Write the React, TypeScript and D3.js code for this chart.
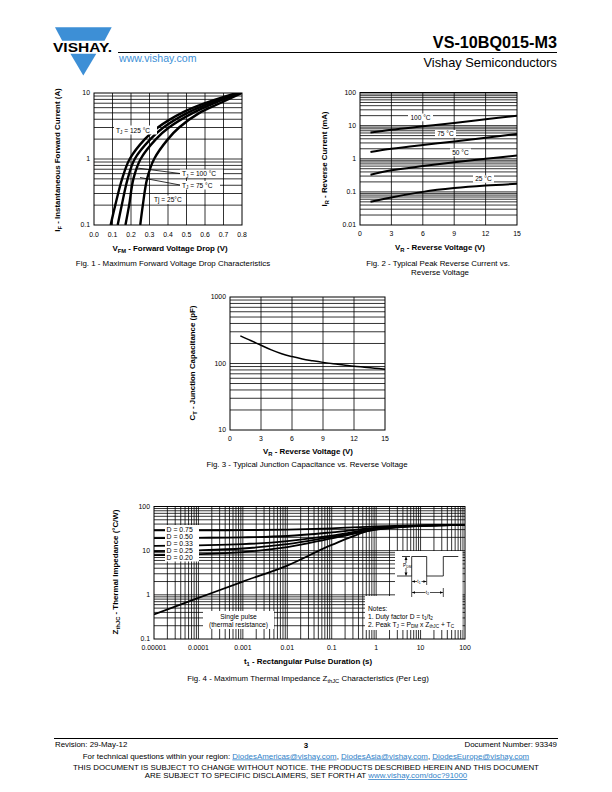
import React from 'react';
import * as d3 from 'd3';

const FONT = "'Liberation Sans', Arial, Helvetica, sans-serif";
const LINK = '#2f7fc8';
const TICK = 6.9;
const TITLE = 7.9;
const CAP = 7.9;

// ---------- Fig. 1 data ----------
const fig1Currents = [0.1, 0.2, 0.5, 1, 2, 3, 5, 7, 10];
const fig1V125 = [0.09, 0.115, 0.152, 0.193, 0.275, 0.345, 0.475, 0.6, 0.77];
const fig1V100 = [0.128, 0.15, 0.182, 0.22, 0.305, 0.375, 0.505, 0.625, 0.78];
const fig1V75 = [0.17, 0.19, 0.213, 0.252, 0.335, 0.405, 0.535, 0.65, 0.79];
const fig1V25 = [0.25, 0.264, 0.287, 0.325, 0.4, 0.46, 0.57, 0.68, 0.8];
const fig1XTicks = [0, 0.1, 0.2, 0.3, 0.4, 0.5, 0.6, 0.7, 0.8];
const fig1XLabels = ['0.0', '0.1', '0.2', '0.3', '0.4', '0.5', '0.6', '0.7', '0.8'];
const fig1YTicks = [0.1, 1, 10];
const fig1YLabels = ['0.1', '1', '10'];

// ---------- Fig. 2 data ----------
const fig2Voltages = [1, 3, 6, 9, 12, 15];
const fig2I100 = [6.2, 7.5, 9.5, 12, 15.5, 20];
const fig2I75 = [1.6, 2.0, 2.6, 3.3, 4.3, 5.6];
const fig2I50 = [0.33, 0.45, 0.6, 0.78, 1.0, 1.25];
const fig2I25 = [0.05, 0.068, 0.1, 0.13, 0.155, 0.175];
const fig2XTicks = [0, 3, 6, 9, 12, 15];
const fig2YTicks = [0.01, 0.1, 1, 10, 100];
const fig2YLabels = ['0.01', '0.1', '1', '10', '100'];

// ---------- Fig. 3 data ----------
const fig3Voltages = [1, 2, 3, 4, 5, 6, 7, 8, 9, 10, 11, 12, 13, 14, 15];
const fig3Cap = [260, 222, 188, 160, 140, 127, 117, 110, 104, 99, 95, 91, 88, 85, 82];
const fig3XTicks = [0, 3, 6, 9, 12, 15];
const fig3YTicks = [10, 100, 1000];
const fig3YLabels = ['10', '100', '1000'];

// ---------- Fig. 4 data ----------
const fig4Times = [1e-5, 1e-4, 1e-3, 1e-2, 1e-1, 1, 10, 100];
const fig4Single = [0.36, 0.85, 2.0, 4.6, 13.5, 31, 37, 38.5];
const fig4D075 = [28.7, 28.8, 29.2, 30, 32, 35.5, 37.5, 38.5];
const fig4D050 = [19.2, 19.5, 20, 21.5, 26, 33, 37, 38.5];
const fig4D033 = [12.8, 13.2, 14, 16.5, 22, 31.5, 36.5, 38.5];
const fig4D025 = [9.8, 10.2, 11.2, 14, 20.5, 30.5, 36.5, 38.5];
const fig4D020 = [7.9, 8.3, 9.3, 12, 19, 30, 36.5, 38.5];
const fig4Legend = ['D = 0.75', 'D = 0.50', 'D = 0.33', 'D = 0.25', 'D = 0.20'];
const fig4XTicks = [1e-5, 1e-4, 1e-3, 1e-2, 1e-1, 1, 10, 100];
const fig4XLabels = ['0.00001', '0.0001', '0.001', '0.01', '0.1', '1', '10', '100'];
const fig4YTicks = [0.1, 1, 10, 100];
const fig4YLabels = ['0.1', '1', '10', '100'];

function logMinors(lo: number, hi: number): number[] {
  const out: number[] = [];
  const e0 = Math.round(Math.log10(lo));
  const e1 = Math.round(Math.log10(hi));
  for (let e = e0; e < e1; e++) {
    for (let m = 1; m <= 9; m++) {
      const v = m * Math.pow(10, e);
      if (v > lo * 1.0001) out.push(v);
    }
  }
  return out;
}

const curve = d3.line<[number, number]>().x(d => d[0]).y(d => d[1]).curve(d3.curveCatmullRom.alpha(0.5));

function Frame({ x0, x1, y0, y1 }: { x0: number; x1: number; y0: number; y1: number }) {
  return <rect x={x0} y={y0} width={x1 - x0} height={y1 - y0} fill="none" stroke="#000" strokeWidth={1} />;
}

function Fig1() {
  const x = d3.scaleLinear().domain([0, 0.8]).range([94, 242]);
  const y = d3.scaleLog().domain([0.1, 10]).range([225, 93]);
  const series = [fig1V125, fig1V100, fig1V75, fig1V25];
  return (
    <g>
      <defs>
        <clipPath id="c1"><rect x={94} y={93} width={148} height={132} /></clipPath>
      </defs>
      {fig1XTicks.slice(1, -1).map(v => (
        <line key={'v' + v} x1={x(v)} x2={x(v)} y1={93} y2={225} stroke="#000" strokeWidth={0.8} />
      ))}
      {logMinors(0.1, 10).map(v => (
        <line key={'h' + v} x1={94} x2={242} y1={y(v)} y2={y(v)} stroke="#000" strokeWidth={0.8} />
      ))}
      <Frame x0={94} x1={242} y0={93} y1={225} />
      <g clipPath="url(#c1)">
        {series.map((s, i) => (
          <path key={i} d={curve(fig1Currents.map((c, k) => [x(s[k]), y(c)] as [number, number])) || ''} fill="none" stroke="#000" strokeWidth={2.4} />
        ))}
      </g>
      {fig1XTicks.map((v, i) => (
        <text key={'xt' + i} x={x(v)} y={237} fontSize={TICK} textAnchor="middle">{fig1XLabels[i]}</text>
      ))}
      {fig1YTicks.map((v, i) => (
        <text key={'yt' + i} x={90} y={y(v) + 2.4} fontSize={TICK} textAnchor="end">{fig1YLabels[i]}</text>
      ))}
      {/* labels */}
      <rect x={114} y={125.5} width={43} height={9} fill="#fff" />
      <text x={116} y={132.5} fontSize={6.6}>T<tspan dy={1.5} fontSize={4.7}>J</tspan><tspan dy={-1.5}> = 125 °C</tspan></text>
      <line x1={137} y1={168} x2={180} y2={173.5} stroke="#000" strokeWidth={0.8} />
      <line x1={140} y1={177.5} x2={180} y2={185} stroke="#000" strokeWidth={0.8} />
      <rect x={180} y={169.5} width={43} height={8.5} fill="#fff" />
      <text x={182} y={176.3} fontSize={6.6}>T<tspan dy={1.5} fontSize={4.7}>J</tspan><tspan dy={-1.5}> = 100 °C</tspan></text>
      <rect x={180} y={181} width={40} height={8.5} fill="#fff" />
      <text x={182} y={187.8} fontSize={6.6}>T<tspan dy={1.5} fontSize={4.7}>J</tspan><tspan dy={-1.5}> = 75 °C</tspan></text>
      <rect x={152} y={195.5} width={33} height={8.5} fill="#fff" />
      <text x={154} y={202.3} fontSize={6.6}>Tj = 25°C</text>
      {/* axis titles */}
      <text transform="translate(60,160) rotate(-90)" textAnchor="middle" fontSize={TITLE} fontWeight="bold">I<tspan dy={2} fontSize={5.8}>F</tspan><tspan dy={-2}> - Instantaneous Forward Current (A)</tspan></text>
      <text x={170} y={251} textAnchor="middle" fontSize={TITLE} fontWeight="bold">V<tspan dy={2} fontSize={5.8}>FM</tspan><tspan dy={-2}> - Forward Voltage Drop (V)</tspan></text>
      <text x={173} y={266} textAnchor="middle" fontSize={CAP}>Fig. 1 - Maximum Forward Voltage Drop Characteristics</text>
    </g>
  );
}

function Fig2() {
  const x = d3.scaleLinear().domain([0, 15]).range([360, 517]);
  const y = d3.scaleLog().domain([0.01, 100]).range([225, 92.5]);
  const series = [fig2I100, fig2I75, fig2I50, fig2I25];
  const labels = [
    { t: '100 °C', x: 408, y: 113.5, w: 25 },
    { t: '75 °C', x: 435, y: 130, w: 21 },
    { t: '50 °C', x: 450, y: 148.5, w: 21 },
    { t: '25 °C', x: 473, y: 175, w: 21 },
  ];
  return (
    <g>
      <defs>
        <clipPath id="c2"><rect x={360} y={92.5} width={157} height={132.5} /></clipPath>
      </defs>
      {fig2XTicks.slice(1, -1).map(v => (
        <line key={'v' + v} x1={x(v)} x2={x(v)} y1={92.5} y2={225} stroke="#000" strokeWidth={0.8} />
      ))}
      {logMinors(0.01, 100).map(v => (
        <line key={'h' + v} x1={360} x2={517} y1={y(v)} y2={y(v)} stroke="#000" strokeWidth={0.8} />
      ))}
      <Frame x0={360} x1={517} y0={92.5} y1={225} />
      <g clipPath="url(#c2)">
        {series.map((s, i) => (
          <path key={i} d={curve(fig2Voltages.map((v, k) => [x(v), y(s[k])] as [number, number])) || ''} fill="none" stroke="#000" strokeWidth={2} />
        ))}
      </g>
      {labels.map(l => (
        <g key={l.t}>
          <rect x={l.x} y={l.y} width={l.w} height={7.8} fill="#fff" />
          <text x={l.x + l.w / 2} y={l.y + 6.2} fontSize={6.6} textAnchor="middle">{l.t}</text>
        </g>
      ))}
      {fig2XTicks.map(v => (
        <text key={'xt' + v} x={x(v)} y={236} fontSize={TICK} textAnchor="middle">{v}</text>
      ))}
      {fig2YTicks.map((v, i) => (
        <text key={'yt' + i} x={356} y={y(v) + 2.4} fontSize={TICK} textAnchor="end">{fig2YLabels[i]}</text>
      ))}
      <text transform="translate(327,159) rotate(-90)" textAnchor="middle" fontSize={TITLE} fontWeight="bold">I<tspan dy={2} fontSize={5.8}>R</tspan><tspan dy={-2}> - Reverse Current (mA)</tspan></text>
      <text x={440} y={250} textAnchor="middle" fontSize={TITLE} fontWeight="bold">V<tspan dy={2} fontSize={5.8}>R</tspan><tspan dy={-2}> - Reverse Voltage (V)</tspan></text>
      <text x={438} y={266} textAnchor="middle" fontSize={CAP}>Fig. 2 - Typical Peak Reverse Current vs.</text>
      <text x={440} y={275} textAnchor="middle" fontSize={CAP}>Reverse Voltage</text>
    </g>
  );
}

function Fig3() {
  const x = d3.scaleLinear().domain([0, 15]).range([230, 385]);
  const y = d3.scaleLog().domain([10, 1000]).range([430, 297]);
  return (
    <g>
      {fig3XTicks.slice(1, -1).map(v => (
        <line key={'v' + v} x1={x(v)} x2={x(v)} y1={297} y2={430} stroke="#000" strokeWidth={0.8} />
      ))}
      {logMinors(10, 1000).map(v => (
        <line key={'h' + v} x1={230} x2={385} y1={y(v)} y2={y(v)} stroke="#000" strokeWidth={0.8} />
      ))}
      <Frame x0={230} x1={385} y0={297} y1={430} />
      <path d={curve(fig3Voltages.map((v, k) => [x(v), y(fig3Cap[k])] as [number, number])) || ''} fill="none" stroke="#000" strokeWidth={1.5} />
      {fig3XTicks.map(v => (
        <text key={'xt' + v} x={x(v)} y={441} fontSize={TICK} textAnchor="middle">{v}</text>
      ))}
      {fig3YTicks.map((v, i) => (
        <text key={'yt' + i} x={226} y={y(v) + 2.4} fontSize={TICK} textAnchor="end">{fig3YLabels[i]}</text>
      ))}
      <text transform="translate(195,363) rotate(-90)" textAnchor="middle" fontSize={TITLE} fontWeight="bold">C<tspan dy={2} fontSize={5.8}>T</tspan><tspan dy={-2}> - Junction Capacitance (pF)</tspan></text>
      <text x={308} y={454} textAnchor="middle" fontSize={TITLE} fontWeight="bold">V<tspan dy={2} fontSize={5.8}>R</tspan><tspan dy={-2}> - Reverse Voltage (V)</tspan></text>
      <text x={307} y={467} textAnchor="middle" fontSize={CAP}>Fig. 3 - Typical Junction Capacitance vs. Reverse Voltage</text>
    </g>
  );
}

function Fig4() {
  const X0 = 154, X1 = 465, Y0 = 506.5, Y1 = 639;
  const x = d3.scaleLog().domain([1e-5, 100]).range([X0, X1]);
  const y = d3.scaleLog().domain([0.1, 100]).range([Y1, Y0]);
  const series = [fig4D075, fig4D050, fig4D033, fig4D025, fig4D020, fig4Single];
  const wave = `M397,576 H411.7 V556.5 H426.7 V576 H443.3 V556.5 H458.3`;
  return (
    <g>
      <defs>
        <clipPath id="c4"><rect x={X0} y={Y0} width={X1 - X0} height={Y1 - Y0} /></clipPath>
      </defs>
      {logMinors(1e-5, 100).map(v => (
        <line key={'v' + v} x1={x(v)} x2={x(v)} y1={Y0} y2={Y1} stroke="#000" strokeWidth={0.8} />
      ))}
      {logMinors(0.1, 100).map(v => (
        <line key={'h' + v} x1={X0} x2={X1} y1={y(v)} y2={y(v)} stroke="#000" strokeWidth={0.8} />
      ))}
      <Frame x0={X0} x1={X1} y0={Y0} y1={Y1} />
      <g clipPath="url(#c4)">
        {series.map((s, i) => (
          <path key={i} d={curve(fig4Times.map((t, k) => [x(t), y(s[k])] as [number, number])) || ''} fill="none" stroke="#000" strokeWidth={1.8} />
        ))}
      </g>
      {/* legend box */}
      <rect x={165} y={525} width={34} height={36.5} fill="#fff" />
      {fig4Legend.map((t, i) => (
        <text key={t} x={166.5} y={531.5 + i * 7.1} fontSize={6.9}>{t}</text>
      ))}
      {/* single pulse box */}
      <rect x={203} y={611} width={71} height={18} fill="#fff" />
      <text x={238.5} y={618.5} fontSize={6.7} textAnchor="middle">Single pulse</text>
      <text x={238.5} y={626.5} fontSize={6.7} textAnchor="middle">(thermal resistance)</text>
      {/* notes box */}
      <path d="M395,551 H462.5 V630 H365 V596 H395 Z" fill="#fff" />
      <path d={wave} fill="none" stroke="#000" strokeWidth={0.8} />
      <line x1={402} x2={410} y1={556.5} y2={556.5} stroke="#000" strokeWidth={0.8} />
      <line x1={406} x2={406} y1={557} y2={575.5} stroke="#000" strokeWidth={0.7} />
      <path d="M404.5,560 L406,556.8 L407.5,560 Z M404.5,572.5 L406,575.7 L407.5,572.5 Z" fill="#000" />
      <rect x={402.5} y={563} width={8} height={5} fill="#fff" />
      <text x={403} y={567} fontSize={4.8}>P<tspan dy={1} fontSize={3.4}>DM</tspan></text>
      <line x1={411.7} x2={411.7} y1={576} y2={597} stroke="#000" strokeWidth={0.7} />
      <line x1={426.7} x2={426.7} y1={576} y2={585} stroke="#000" strokeWidth={0.7} />
      <line x1={443.3} x2={443.3} y1={588} y2={597} stroke="#000" strokeWidth={0.7} />
      <line x1={412} x2={426.4} y1={581.5} y2={581.5} stroke="#000" strokeWidth={0.7} />
      <line x1={412} x2={443} y1={592.5} y2={592.5} stroke="#000" strokeWidth={0.7} />
      <path d="M412,581.5 L415,580.3 L415,582.7 Z M426.4,581.5 L423.4,580.3 L423.4,582.7 Z M412,592.5 L415,591.3 L415,593.7 Z M443,592.5 L440,591.3 L440,593.7 Z" fill="#000" />
      <rect x={417} y={579} width={4.5} height={5} fill="#fff" />
      <text x={417.3} y={583.3} fontSize={4.8}>t<tspan dy={1} fontSize={3.4}>1</tspan></text>
      <rect x={425.5} y={590} width={4.5} height={5} fill="#fff" />
      <text x={425.8} y={594.3} fontSize={4.8}>t<tspan dy={1} fontSize={3.4}>2</tspan></text>
      <text x={368} y={611} fontSize={6.7}>Notes:</text>
      <text x={368} y={619} fontSize={6.7}>1. Duty factor D = t<tspan dy={1.3} fontSize={4.7}>1</tspan><tspan dy={-1.3}>/t</tspan><tspan dy={1.3} fontSize={4.7}>2</tspan></text>
      <text x={368} y={627} fontSize={6.7}>2. Peak T<tspan dy={1.3} fontSize={4.7}>J</tspan><tspan dy={-1.3}> = P</tspan><tspan dy={1.3} fontSize={4.7}>DM</tspan><tspan dy={-1.3}> x Z</tspan><tspan dy={1.3} fontSize={4.7}>thJC</tspan><tspan dy={-1.3}> + T</tspan><tspan dy={1.3} fontSize={4.7}>C</tspan></text>
      {fig4XTicks.map((v, i) => (
        <text key={'xt' + i} x={x(v)} y={650} fontSize={TICK} textAnchor="middle">{fig4XLabels[i]}</text>
      ))}
      {fig4YTicks.map((v, i) => (
        <text key={'yt' + i} x={150} y={y(v) + 2.4} fontSize={TICK} textAnchor="end">{fig4YLabels[i]}</text>
      ))}
      <text transform="translate(118,572) rotate(-90)" textAnchor="middle" fontSize={TITLE} fontWeight="bold">Z<tspan dy={2} fontSize={5.8}>thJC</tspan><tspan dy={-2}> - Thermal Impedance (°C/W)</tspan></text>
      <text x={308} y={664} textAnchor="middle" fontSize={TITLE} fontWeight="bold">t<tspan dy={2} fontSize={5.8}>1</tspan><tspan dy={-2}> - Rectangular Pulse Duration (s)</tspan></text>
      <text x={308} y={681} textAnchor="middle" fontSize={CAP}>Fig. 4 - Maximum Thermal Impedance Z<tspan dy={2} fontSize={5.8}>thJC</tspan><tspan dy={-2}> Characteristics (Per Leg)</tspan></text>
    </g>
  );
}

function Header() {
  const blue = '#3d8fd6';
  return (
    <g>
      <path d="M55,27.3 L111.7,27.3 L104.5,40.8 L62.2,40.8 Z" fill={blue} />
      <path d="M70.4,53.8 L96.3,53.8 L83.3,75.5 Z" fill={blue} />
      <text x={53} y={51.5} fontSize={13} fontWeight="bold" textLength={59} lengthAdjust="spacingAndGlyphs">VISHAY.</text>
      <text x={119} y={62} fontSize={10.6} fill={blue}>www.vishay.com</text>
      <text x={557} y={48} fontSize={16.2} fontWeight="bold" textAnchor="end">VS-10BQ015-M3</text>
      <line x1={118} x2={557} y1={52.5} y2={52.5} stroke="#000" strokeWidth={1} />
      <text x={557} y={67} fontSize={12.8} textAnchor="end">Vishay Semiconductors</text>
    </g>
  );
}

function Footer() {
  return (
    <g fontSize={7.9}>
      <line x1={54} x2={558} y1={738.5} y2={738.5} stroke="#000" strokeWidth={1} />
      <text x={55} y={747}>Revision: 29-May-12</text>
      <text x={306} y={748} textAnchor="middle" fontWeight="bold">3</text>
      <text x={557} y={747} textAnchor="end">Document Number: 93349</text>
      <text x={306} y={758.5} textAnchor="middle">For technical questions within your region: <tspan fill={LINK} textDecoration="underline">DiodesAmericas@vishay.com</tspan>, <tspan fill={LINK} textDecoration="underline">DiodesAsia@vishay.com</tspan>, <tspan fill={LINK} textDecoration="underline">DiodesEurope@vishay.com</tspan></text>
      <text x={306} y={769.5} textAnchor="middle">THIS DOCUMENT IS SUBJECT TO CHANGE WITHOUT NOTICE. THE PRODUCTS DESCRIBED HEREIN AND THIS DOCUMENT</text>
      <text x={306} y={778} textAnchor="middle">ARE SUBJECT TO SPECIFIC DISCLAIMERS, SET FORTH AT <tspan fill={LINK} textDecoration="underline">www.vishay.com/doc?91000</tspan></text>
    </g>
  );
}

export default function App() {
  return (
    <svg width={612} height={792} viewBox="0 0 612 792" style={{ position: 'absolute', left: 0, top: 0, background: '#fff' }} fontFamily={FONT}>
      <rect x={0} y={0} width={612} height={792} fill="#fff" />
      <Header />
      <Fig1 />
      <Fig2 />
      <Fig3 />
      <Fig4 />
      <Footer />
    </svg>
  );
}
